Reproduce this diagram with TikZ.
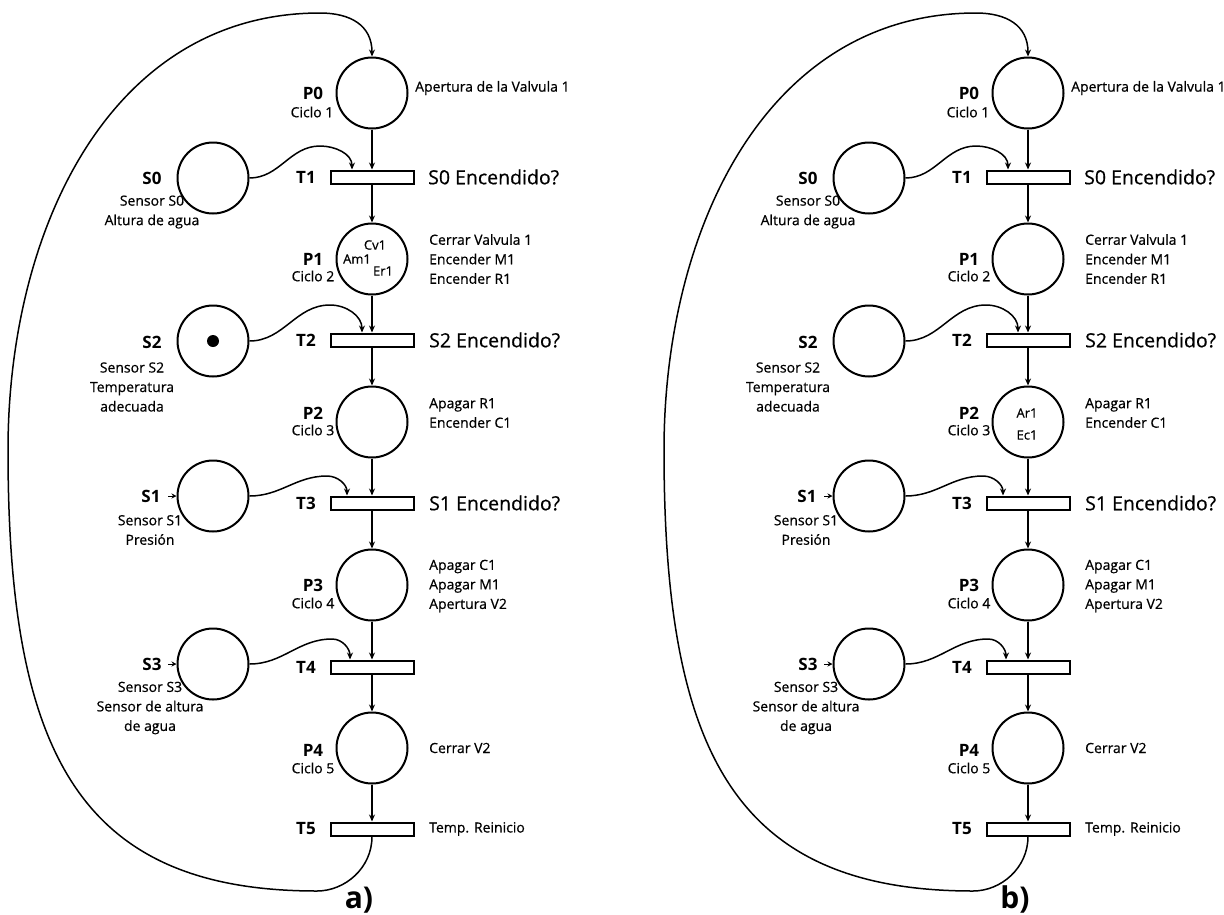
\documentclass[tikz,border=0pt]{standalone}
\usepackage{fontspec}
\setmainfont{Open Sans}
\newfontfamily\medfont{Open Sans}[FakeBold=0.6]
\usetikzlibrary{arrows.meta}

\tikzset{
  place/.style={circle,draw,line width=2pt,minimum size=71pt,inner sep=0pt},
  trans/.style={rectangle,draw,line width=2pt,minimum width=83pt,minimum height=13pt,inner sep=0pt},
  flowarrow/.style={line width=1.5pt,-{Stealth[length=7pt,width=6pt]}},
  stubarrow/.style={line width=1pt,-{Stealth[length=5pt,width=5pt]}},
  idtxt/.style={font=\fontsize{17}{20}\selectfont\bfseries,inner sep=0pt},
  smalltxt/.style={font=\medfont\fontsize{14}{19.5}\selectfont,inner sep=0pt},
  bigtxt/.style={font=\medfont\fontsize{19.5}{23}\selectfont,inner sep=0pt},
  marktxt/.style={font=\medfont\fontsize{13}{15}\selectfont,inner sep=0pt},
  paneltxt/.style={font=\fontsize{30}{34}\selectfont\bfseries,inner sep=0pt},
}

% One Petri net, drawn around the vertical axis x = 0
\newcommand\petrinet{%
  % chain of places and transitions
  \node[place] (P0) at (0,-93) {};
  \node[trans] (T1) at (0,-177) {};
  \node[place] (P1) at (0,-259) {};
  \node[trans] (T2) at (0,-340) {};
  \node[place] (P2) at (0,-422) {};
  \node[trans] (T3) at (0,-503) {};
  \node[place] (P3) at (0,-585) {};
  \node[trans] (T4) at (0,-667) {};
  \node[place] (P4) at (0,-748) {};
  \node[trans] (T5) at (0,-829) {};
  % sensor places
  \node[place] (S0) at (-159,-178) {};
  \node[place] (S2) at (-159,-341) {};
  \node[place] (S1) at (-159,-496) {};
  \node[place] (S3) at (-159,-664) {};
  % arcs along the chain
  \draw[flowarrow] (P0) -- (T1);
  \draw[flowarrow] (T1) -- (P1);
  \draw[flowarrow] (P1) -- (T2);
  \draw[flowarrow] (T2) -- (P2);
  \draw[flowarrow] (P2) -- (T3);
  \draw[flowarrow] (T3) -- (P3);
  \draw[flowarrow] (P3) -- (T4);
  \draw[flowarrow] (T4) -- (P4);
  \draw[flowarrow] (P4) -- (T5);
  % sensor arcs into the transitions
  \coordinate (k0) at (-52,-146);
  \coordinate (e0) at (-20,-169.5);
  \draw[flowarrow] (S0.east) to[out=0,in=180] (k0) to[out=0,in=90] (e0);
  \coordinate (k2) at (-42,-305);
  \coordinate (e2) at (-10,-332.5);
  \draw[flowarrow] (S2.east) to[out=0,in=180] (k2) to[out=0,in=90] (e2);
  \coordinate (k1) at (-45,-476);
  \coordinate (e1) at (-25,-495.5);
  \draw[flowarrow] (S1.east) to[out=0,in=180] (k1) to[out=0,in=90] (e1);
  \coordinate (k3) at (-40,-639);
  \coordinate (e3) at (-22,-659.5);
  \draw[flowarrow] (S3.east) to[out=0,in=180] (k3) to[out=0,in=90] (e3);
  % input stubs of S1 and S3
  \coordinate (i1) at (-204,-496);
  \draw[stubarrow] (i1) -- (S1.west);
  \coordinate (i3) at (-204,-664);
  \draw[stubarrow] (i3) -- (S3.west);
  % return arc from T5 back to P0
  \coordinate (rb) at (-55,-891);
  \coordinate (rl) at (-364,-450);
  \coordinate (rt) at (-52,-13);
  \draw[flowarrow] (T5.south)
    .. controls (0,-868) and (-27,-891) .. (rb)
    .. controls (-295,-891) and (-364,-750) .. (rl)
    .. controls (-364,-230) and (-262,-13) .. (rt)
    .. controls (-22,-13) and (0,-25) .. (P0.north);
  % place names and cycles
  \node[idtxt] (nP0) at (-59,-93) {P0};
  \node[smalltxt] (cP0) at (-60,-112) {Ciclo 1};
  \node[idtxt] (nP1) at (-59,-259) {P1};
  \node[smalltxt] (cP1) at (-59,-276) {Ciclo 2};
  \node[idtxt] (nP2) at (-59,-413) {P2};
  \node[smalltxt] (cP2) at (-59,-430) {Ciclo 3};
  \node[idtxt] (nP3) at (-59,-585) {P3};
  \node[smalltxt] (cP3) at (-59,-603) {Ciclo 4};
  \node[idtxt] (nP4) at (-59,-750) {P4};
  \node[smalltxt] (cP4) at (-59,-768) {Ciclo 5};
  % place actions
  \node[smalltxt,anchor=west] (dP0) at (43,-88) {Apertura de la Valvula 1};
  \node[smalltxt,anchor=west,align=left] (dP1) at (57,-259) {Cerrar Valvula 1\\Encender M1\\Encender R1};
  \node[smalltxt,anchor=west,align=left] (dP2) at (57,-413) {Apagar R1\\Encender C1};
  \node[smalltxt,anchor=west,align=left] (dP3) at (57,-586) {Apagar C1\\Apagar M1\\Apertura V2};
  \node[smalltxt,anchor=west] (dP4) at (57,-748) {Cerrar V2};
  % transition names and conditions
  \node[idtxt] (nT1) at (-66,-177) {T1};
  \node[idtxt] (nT2) at (-66,-340) {T2};
  \node[idtxt] (nT3) at (-66,-503) {T3};
  \node[idtxt] (nT4) at (-66,-667) {T4};
  \node[idtxt] (nT5) at (-66,-829) {T5};
  \node[bigtxt,anchor=west] (dT1) at (56,-177) {S0 Encendido?};
  \node[bigtxt,anchor=west] (dT2) at (57,-340) {S2 Encendido?};
  \node[bigtxt,anchor=west] (dT3) at (57,-503) {S1 Encendido?};
  \node[smalltxt,anchor=west] (dT5) at (57,-829) {Temp. Reinicio};
  % sensor names
  \node[idtxt] (nS0) at (-220,-178) {S0};
  \node[smalltxt,align=center] (dS0) at (-220,-212) {Sensor S0\\Altura de agua};
  \node[idtxt] (nS2) at (-220,-342) {S2};
  \node[smalltxt,align=center] (dS2) at (-240,-387) {Sensor S2\\Temperatura\\adecuada};
  \node[idtxt] (nS1) at (-221,-496) {S1};
  \node[smalltxt,align=center] (dS1) at (-222,-530) {Sensor S1\\Presión};
  \node[idtxt] (nS3) at (-220,-664) {S3};
  \node[smalltxt,align=center] (dS3) at (-222,-708) {Sensor S3\\Sensor de altura\\de agua};
}

\begin{document}
\begin{tikzpicture}[x=1pt,y=1pt]
\useasboundingbox (0,0) rectangle (1224,-914);
\begin{scope}[xshift=372pt,name prefix=a-]
  \petrinet
  \fill (S2) circle (6pt);
  \node[marktxt] (cv) at (3,-245) {Cv1};
  \node[marktxt] (am) at (-15,-259) {Am1};
  \node[marktxt] (er) at (11,-271) {Er1};
  \node[paneltxt,anchor=base] (lbl) at (-13,-908) {a)};
\end{scope}
\begin{scope}[xshift=1028pt,name prefix=b-]
  \petrinet
  \node[marktxt] (ar) at (-1,-413) {Ar1};
  \node[marktxt] (ec) at (-1,-435) {Ec1};
  \node[paneltxt,anchor=base] (lbl) at (-13,-908) {b)};
\end{scope}
\end{tikzpicture}
\end{document}
